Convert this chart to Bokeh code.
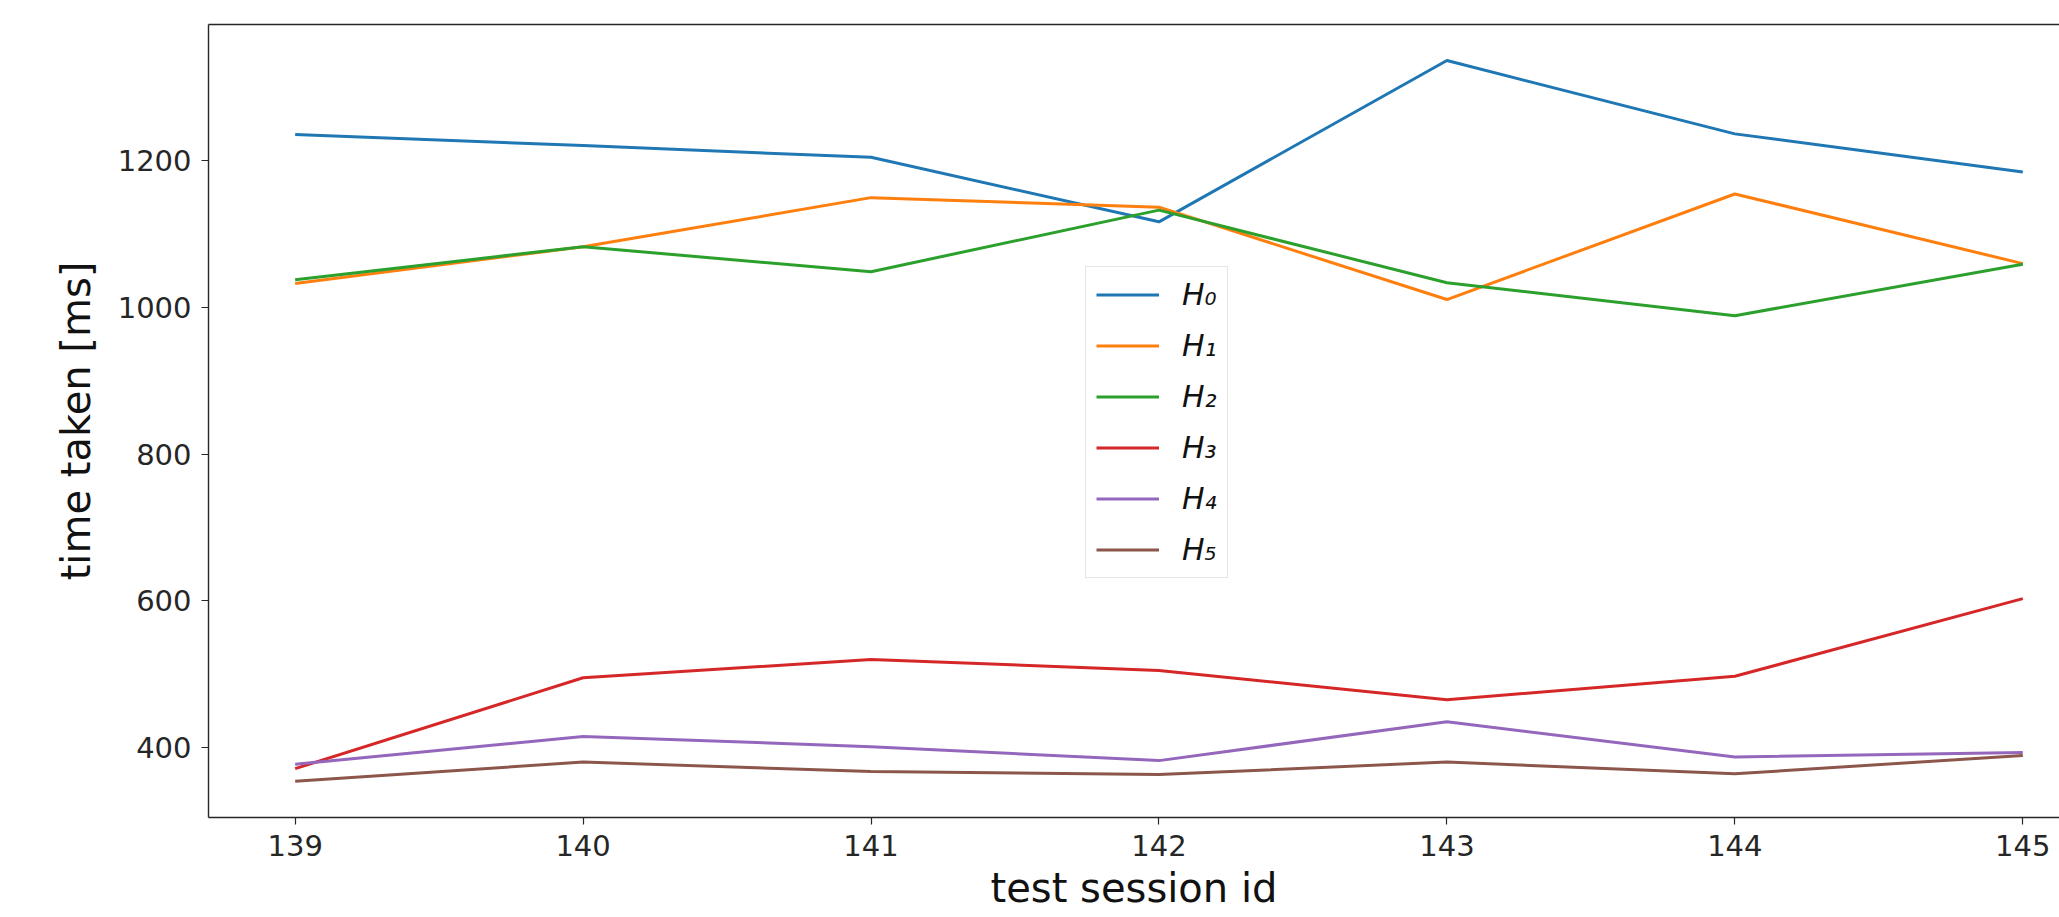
from bokeh.plotting import figure
from bokeh.models import Range1d, FixedTicker, LinearAxis, Legend, LegendItem
from bokeh.embed import file_html
from bokeh.resources import INLINE

sessions = [139, 140, 141, 142, 143, 144, 145]
H0 = [1236, 1221, 1205, 1117, 1337, 1237, 1185]
H1 = [1033, 1083, 1150, 1137, 1011, 1155, 1060]
H2 = [1038, 1083, 1049, 1133, 1034, 989, 1059]
H3 = [371, 495, 520, 505, 465, 497, 603]
H4 = [377, 415, 401, 382, 435, 387, 393]
H5 = [354, 380, 367, 363, 380, 364, 389]
series_labels = ["H\u2080", "H\u2081", "H\u2082", "H\u2083", "H\u2084", "H\u2085"]
y_ticks = [400, 600, 800, 1000, 1200]

colors = ["#1f77b4", "#ff7f0e", "#2ca02c", "#d62728", "#9467bd", "#8c564b"]
FONT = "DejaVu Sans"

p = figure(width=2059, height=917, output_backend="svg", toolbar_location=None,
           x_range=Range1d(138.699, 145.1275), y_range=Range1d(304.4, 1386.2),
           min_border_left=208, min_border_right=0, min_border_top=24, min_border_bottom=100)
p.outline_line_color = None
p.xgrid.visible = False
p.ygrid.visible = False
p.background_fill_color = "white"
p.border_fill_color = "white"

items = []
for ys, lab, c in zip([H0, H1, H2, H3, H4, H5], series_labels, colors):
    r = p.line(sessions, ys, line_color=c, line_width=3)
    items.append(LegendItem(label=lab, renderers=[r]))

for ax in (p.xaxis[0], p.yaxis[0]):
    ax.axis_line_color = "#262626"
    ax.axis_line_width = 1.4
    ax.major_tick_line_color = "#262626"
    ax.major_tick_line_width = 1.2
    ax.major_tick_out = 7
    ax.major_tick_in = 0
    ax.minor_tick_out = 0
    ax.minor_tick_in = 0
    ax.major_label_text_font = FONT
    ax.major_label_text_font_size = "29px"
    ax.major_label_text_color = "#262626"
    ax.axis_label_text_font = FONT
    ax.axis_label_text_font_size = "40px"
    ax.axis_label_text_font_style = "normal"
    ax.axis_label_text_color = "#111111"

p.xaxis[0].ticker = FixedTicker(ticks=sessions)
p.yaxis[0].ticker = FixedTicker(ticks=y_ticks)
p.xaxis[0].axis_label = "test session id"
p.yaxis[0].axis_label = "time taken [ms]"
p.xaxis[0].major_label_standoff = 10
p.xaxis[0].axis_label_standoff = 6
p.yaxis[0].major_label_standoff = 10
p.yaxis[0].axis_label_standoff = 16

top = LinearAxis(ticker=FixedTicker(ticks=[]), major_label_text_font_size="0px",
                 axis_line_color="#262626", axis_line_width=1.4,
                 major_tick_out=0, major_tick_in=0, minor_tick_out=0, minor_tick_in=0,
                 major_label_standoff=0)
p.add_layout(top, "above")

legend = Legend(items=items, location=(877, 239), orientation="vertical")
legend.label_text_font = FONT
legend.label_text_font_size = "30px"
legend.label_text_font_style = "italic"
legend.label_text_color = "#111111"
legend.glyph_width = 63
legend.glyph_height = 35
legend.label_height = 35
legend.label_standoff = 23
legend.spacing = 16
legend.padding = 10
legend.margin = 0
legend.border_line_color = "#cccccc"
legend.border_line_width = 1.5
legend.background_fill_color = "white"
legend.background_fill_alpha = 0.8
p.add_layout(legend, "center")

open("out.html", "w").write(file_html(p, INLINE))
